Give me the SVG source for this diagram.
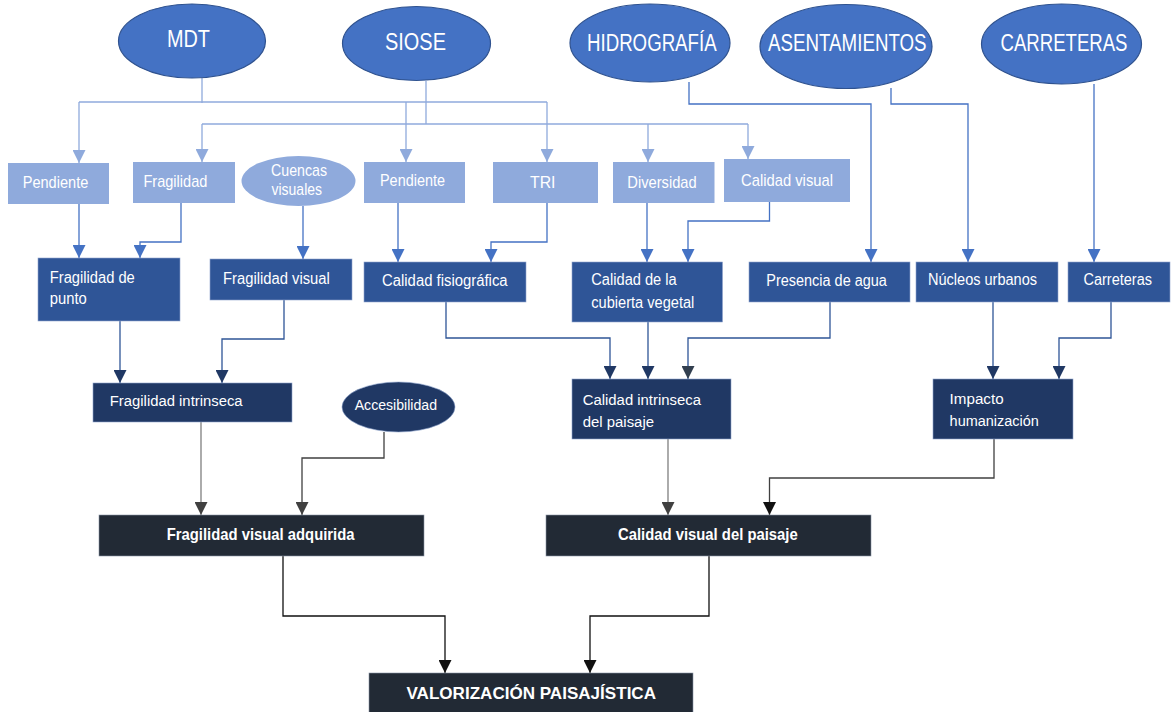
<svg xmlns="http://www.w3.org/2000/svg" width="1174" height="712" viewBox="0 0 1174 712">
<style>
text{font-family:"Liberation Sans Narrow","Liberation Sans",Arial,sans-serif;fill:#fff}
.src{fill:#4472C4;stroke:#2F528F;stroke-width:1.2}
.lt{fill:#8FAADC}
.md{fill:#2F5597;stroke:#8FA4CC;stroke-width:0.6}
.dk{fill:#203864;stroke:#8FA4CC;stroke-width:0.6}
.bk{fill:#222A35;stroke:#8A94A6;stroke-width:0.6}
.t1{font-size:23px}
.t0{font-size:17px}
.t2{font-size:16px}
.t3{font-size:15.5px}
.tb{font-size:16.5px;font-weight:bold}
.c{fill:none;stroke-width:1.3}
.cl{stroke:#8FAADC}
.cm{stroke:#4472C4}
.cd{stroke:#2F5597}
.cg{stroke:#7F7F7F}
.cg2{stroke:#404040}
.ck{stroke:#111}
</style>
<defs>
<marker id="aL" markerUnits="userSpaceOnUse" markerWidth="13" markerHeight="13" refX="13" refY="6.5" orient="auto"><path d="M0,0L13,6.5L0,13z" fill="#8FAADC"/></marker>
<marker id="aM" markerUnits="userSpaceOnUse" markerWidth="13" markerHeight="13" refX="13" refY="6.5" orient="auto"><path d="M0,0L13,6.5L0,13z" fill="#4472C4"/></marker>
<marker id="aD" markerUnits="userSpaceOnUse" markerWidth="13" markerHeight="13" refX="13" refY="6.5" orient="auto"><path d="M0,0L13,6.5L0,13z" fill="#203864"/></marker>
<marker id="aS" markerUnits="userSpaceOnUse" markerWidth="13" markerHeight="13" refX="13" refY="6.5" orient="auto"><path d="M0,0L13,6.5L0,13z" fill="#323F4F"/></marker>
<marker id="aG" markerUnits="userSpaceOnUse" markerWidth="13" markerHeight="13" refX="13" refY="6.5" orient="auto"><path d="M0,0L13,6.5L0,13z" fill="#404040"/></marker>
<marker id="aK" markerUnits="userSpaceOnUse" markerWidth="13" markerHeight="13" refX="13" refY="6.5" orient="auto"><path d="M0,0L13,6.5L0,13z" fill="#111"/></marker>
</defs>
<rect width="1174" height="712" fill="#fff"/>
<g id="connectors">
<polyline class="c cl" points="202,78 202,103"/>
<polyline class="c cl" points="79,102 547,102"/>
<polyline class="c cl" points="79,102 79,163" marker-end="url(#aL)"/>
<polyline class="c cl" points="406,102 406,162" marker-end="url(#aL)"/>
<polyline class="c cl" points="547,102 547,162" marker-end="url(#aL)"/>
<polyline class="c cl" points="426,81 426,124"/>
<polyline class="c cl" points="202,124 748,124"/>
<polyline class="c cl" points="202,124 202,162" marker-end="url(#aL)"/>
<polyline class="c cl" points="648,124 648,162" marker-end="url(#aL)"/>
<polyline class="c cl" points="748,124 748,159" marker-end="url(#aL)"/>
<polyline class="c cm" points="689,82 689,104 871,104 871,262" marker-end="url(#aM)"/>
<polyline class="c cm" points="891,88 891,104 968,104 968,262" marker-end="url(#aM)"/>
<polyline class="c cm" points="1094,84 1094,262" marker-end="url(#aM)"/>
<polyline class="c cm" points="79,204 79,258" marker-end="url(#aM)"/>
<polyline class="c cm" points="181,203 181,242 140,242 140,258" marker-end="url(#aM)"/>
<polyline class="c cm" points="303,206 303,259" marker-end="url(#aM)"/>
<polyline class="c cm" points="398,203 398,262" marker-end="url(#aM)"/>
<polyline class="c cm" points="547,203 547,242 491,242 491,262" marker-end="url(#aM)"/>
<polyline class="c cm" points="647,203 647,262" marker-end="url(#aM)"/>
<polyline class="c cm" points="769.5,202 769.5,221 688,221 688,262" marker-end="url(#aM)"/>
<polyline class="c cd" points="120,321 120,383" marker-end="url(#aD)"/>
<polyline class="c cd" points="284,300 284,339 222,339 222,383" marker-end="url(#aD)"/>
<polyline class="c cd" points="446,302 446,338 610,338 610,379" marker-end="url(#aD)"/>
<polyline class="c cd" points="648,322 648,379" marker-end="url(#aD)"/>
<polyline class="c cd" points="830,302 830,338 688,338 688,379" marker-end="url(#aS)"/>
<polyline class="c cd" points="993,302 993,379" marker-end="url(#aD)"/>
<polyline class="c cd" points="1111,302 1111,338 1059,338 1059,379" marker-end="url(#aD)"/>
<polyline class="c cg" points="201,422 201,515" marker-end="url(#aG)"/>
<polyline class="c cg2" points="384,432 384,458 302,458 302,515" marker-end="url(#aG)"/>
<polyline class="c cg" points="668,439 668,515" marker-end="url(#aG)"/>
<polyline class="c cg2" points="994,439 994,478 769.5,478 769.5,515" marker-end="url(#aK)"/>
<polyline class="c ck" points="283,556 283,616 445,616 445,673" marker-end="url(#aK)"/>
<polyline class="c ck" points="709,556 709,616 590,616 590,673" marker-end="url(#aK)"/>
</g>
<g id="mdt"><ellipse class="src" cx="192" cy="41" rx="73.5" ry="37"/><text class="t1" x="167" y="47" textLength="43" lengthAdjust="spacingAndGlyphs">MDT</text></g>
<g id="siose"><ellipse class="src" cx="416.5" cy="43.5" rx="74" ry="37"/><text class="t1" x="385" y="50" font-size="24" textLength="61" lengthAdjust="spacingAndGlyphs">SIOSE</text></g>
<g id="hidrografia"><ellipse class="src" cx="650" cy="43" rx="80" ry="39"/><text class="t1" x="587" y="51" font-size="21.5" textLength="129.6" lengthAdjust="spacingAndGlyphs">HIDROGRAFÍA</text></g>
<g id="asentamientos"><ellipse class="src" cx="846" cy="46.5" rx="86" ry="42"/><text class="t1" x="768" y="51" font-size="21.5" textLength="158.6" lengthAdjust="spacingAndGlyphs">ASENTAMIENTOS</text></g>
<g id="carreteras-src"><ellipse class="src" cx="1061.5" cy="44" rx="80" ry="40"/><text class="t1" x="1000.5" y="51" font-size="21.5" textLength="127" lengthAdjust="spacingAndGlyphs">CARRETERAS</text></g>
<g id="pendiente1"><rect class="lt" x="8" y="163" width="101" height="41"/><text class="t0" x="22.7" y="187.5" textLength="65.6" lengthAdjust="spacingAndGlyphs">Pendiente</text></g>
<g id="fragilidad"><rect class="lt" x="133" y="162" width="102" height="41"/><text class="t0" x="143.4" y="187" textLength="64" lengthAdjust="spacingAndGlyphs">Fragilidad</text></g>
<g id="cuencas"><ellipse class="lt" cx="298.5" cy="181" rx="57" ry="25"/><text class="t0" x="271" y="175.5" font-size="16" textLength="56" lengthAdjust="spacingAndGlyphs">Cuencas</text><text class="t0" x="271.5" y="195" font-size="16" textLength="50.5" lengthAdjust="spacingAndGlyphs">visuales</text></g>
<g id="pendiente2"><rect class="lt" x="364" y="162" width="101" height="41"/><text class="t0" x="380" y="186" textLength="65" lengthAdjust="spacingAndGlyphs">Pendiente</text></g>
<g id="tri"><rect class="lt" x="493" y="162" width="105" height="41"/><text class="t0" x="530" y="188" font-size="18.5" textLength="25.5" lengthAdjust="spacingAndGlyphs">TRI</text></g>
<g id="diversidad"><rect class="lt" x="613" y="162" width="101.5" height="41"/><text class="t0" x="627.3" y="188" textLength="69.4" lengthAdjust="spacingAndGlyphs">Diversidad</text></g>
<g id="calidad-visual"><rect class="lt" x="724" y="159" width="126" height="43"/><text class="t0" x="741" y="185.5" textLength="92" lengthAdjust="spacingAndGlyphs">Calidad visual</text></g>
<g id="fragilidad-punto"><rect class="md" x="38" y="258" width="142" height="63"/><text class="t2" x="49.8" y="283" textLength="85" lengthAdjust="spacingAndGlyphs">Fragilidad de</text><text class="t2" x="49.8" y="304" textLength="37" lengthAdjust="spacingAndGlyphs">punto</text></g>
<g id="fragilidad-visual"><rect class="md" x="210" y="259" width="142" height="41"/><text class="t2" x="223" y="284" textLength="106.8" lengthAdjust="spacingAndGlyphs">Fragilidad visual</text></g>
<g id="calidad-fisiografica"><rect class="md" x="364" y="262" width="162" height="40"/><text class="t2" x="382" y="286" textLength="125.6" lengthAdjust="spacingAndGlyphs">Calidad fisiográfica</text></g>
<g id="cubierta-vegetal"><rect class="md" x="572" y="262" width="150.5" height="60"/><text class="t2" x="591.3" y="285" textLength="85.4" lengthAdjust="spacingAndGlyphs">Calidad de la</text><text class="t2" x="591.3" y="308" textLength="103" lengthAdjust="spacingAndGlyphs">cubierta vegetal</text></g>
<g id="presencia-agua"><rect class="md" x="749" y="262" width="161" height="40"/><text class="t2" x="766.3" y="286" textLength="120.6" lengthAdjust="spacingAndGlyphs">Presencia de agua</text></g>
<g id="nucleos-urbanos"><rect class="md" x="916" y="262" width="142" height="40"/><text class="t2" x="928" y="285" textLength="109" lengthAdjust="spacingAndGlyphs">Núcleos urbanos</text></g>
<g id="carreteras"><rect class="md" x="1068" y="262" width="102" height="40"/><text class="t2" x="1083.5" y="285" textLength="68.5" lengthAdjust="spacingAndGlyphs">Carreteras</text></g>
<g id="fragilidad-intrinseca"><rect class="dk" x="93" y="383" width="199" height="39"/><text class="t3" x="109.8" y="406" textLength="132.8" lengthAdjust="spacingAndGlyphs">Fragilidad intrinseca</text></g>
<g id="accesibilidad"><ellipse class="dk" cx="398.5" cy="407" rx="56.5" ry="25"/><text class="t3" x="354.7" y="410" font-size="15" textLength="82.3" lengthAdjust="spacingAndGlyphs">Accesibilidad</text></g>
<g id="calidad-intrinseca"><rect class="dk" x="572" y="379" width="159" height="60"/><text class="t3" x="582.7" y="405" textLength="118.3" lengthAdjust="spacingAndGlyphs">Calidad intrinseca</text><text class="t3" x="582.7" y="427" textLength="71.3" lengthAdjust="spacingAndGlyphs">del paisaje</text></g>
<g id="impacto"><rect class="dk" x="933" y="379" width="140" height="60"/><text class="t3" x="949.6" y="404" textLength="54" lengthAdjust="spacingAndGlyphs">Impacto</text><text class="t3" x="949.6" y="426" textLength="89.3" lengthAdjust="spacingAndGlyphs">humanización</text></g>
<g id="fragilidad-adquirida"><rect class="bk" x="99" y="515" width="325" height="41"/><text class="tb" x="166.7" y="540" textLength="187.8" lengthAdjust="spacingAndGlyphs">Fragilidad visual adquirida</text></g>
<g id="calidad-visual-paisaje"><rect class="bk" x="546" y="515" width="325" height="41"/><text class="tb" x="618" y="540" textLength="179.7" lengthAdjust="spacingAndGlyphs">Calidad visual del paisaje</text></g>
<g id="valorizacion"><rect class="bk" x="369" y="673" width="324" height="42"/><text class="tb" x="406.5" y="699" font-size="18.5" textLength="249.5" lengthAdjust="spacingAndGlyphs">VALORIZACIÓN PAISAJÍSTICA</text></g>
</svg>
